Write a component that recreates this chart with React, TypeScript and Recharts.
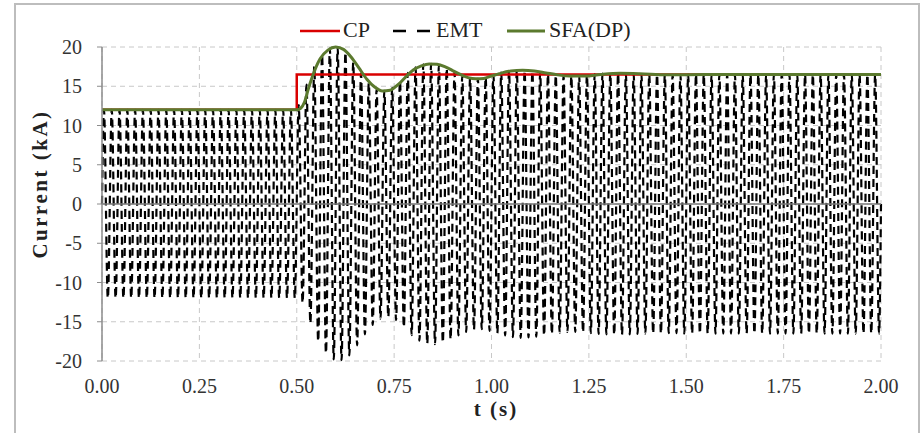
import { LineChart, Line, XAxis, YAxis, CartesianGrid, ReferenceLine } from "recharts";

const SERIF = "'Liberation Serif', 'DejaVu Serif', serif";

const X_TICKS = [0, 0.25, 0.5, 0.75, 1, 1.25, 1.5, 1.75, 2];
const Y_TICKS = [-20, -15, -10, -5, 0, 5, 10, 15, 20];

// CP: step from 12 kA to 16.5 kA at 0.5 s
const CP_T = [0, 0.5, 0.5, 2];
const CP_V = [12, 12, 16.5, 16.5];

// SFA(DP) envelope
const SFA_T = [
  0, 0.5, 0.51, 0.52, 0.53, 0.54, 0.55, 0.56, 0.58, 0.6, 0.62, 0.64, 0.66,
  0.68, 0.7, 0.72, 0.74, 0.76, 0.78, 0.8, 0.82, 0.84, 0.86, 0.88, 0.9, 0.92,
  0.94, 0.96, 0.98, 1.0, 1.02, 1.05, 1.08, 1.11, 1.14, 1.17, 1.2, 1.24, 1.28,
  1.33, 1.38, 1.45, 1.55, 2.0,
];
const SFA_V = [
  12, 12, 12.2, 13.0, 14.7, 16.2, 17.5, 18.5, 19.6, 20.0, 19.7, 18.7, 17.3,
  15.9, 14.9, 14.4, 14.5, 15.2, 16.2, 17.1, 17.6, 17.85, 17.8, 17.5, 17.0, 16.5,
  16.1, 15.95, 16.0, 16.3, 16.6, 16.95, 17.05, 16.95, 16.7, 16.45, 16.3, 16.3, 16.5,
  16.65, 16.6, 16.45, 16.5, 16.5,
];

// EMT: peak of each 50 Hz cycle (0.02 s each, 100 cycles over 2 s)
const EMT_CYCLE = 0.02;
const EMT_PEAKS = [
  12, 12, 12, 12, 12, 12, 12, 12, 12, 12,
  12, 12, 12, 12, 12, 12, 12, 12, 12, 12,
  12, 12, 12, 12, 12, 12.6, 15.2, 17.5, 19.0, 19.8,
  19.9, 19.3, 18.0, 16.6, 15.4, 14.6, 14.4, 14.8, 15.7, 16.7,
  17.4, 17.8, 17.85, 17.65, 17.25, 16.75, 16.3, 16.0, 15.95, 16.15,
  16.45, 16.75, 16.95, 17.05, 17.0, 16.9, 16.75, 16.55, 16.4, 16.3,
  16.3, 16.35, 16.45, 16.55, 16.6, 16.65, 16.65, 16.6, 16.55, 16.5,
  16.5, 16.5, 16.45, 16.45, 16.5, 16.5, 16.5, 16.5, 16.5, 16.5,
  16.5, 16.5, 16.5, 16.5, 16.5, 16.5, 16.5, 16.5, 16.5, 16.5,
  16.5, 16.5, 16.5, 16.5, 16.5, 16.5, 16.5, 16.5, 16.5, 16.5,
];

const cpData = CP_T.map((t, i) => ({ t, v: CP_V[i] }));
const sfaData = SFA_T.map((t, i) => ({ t, v: SFA_V[i] }));

const emtData: { t: number; v: number }[] = [{ t: 0, v: 0 }];
EMT_PEAKS.forEach((a, i) => {
  const t0 = i * EMT_CYCLE;
  emtData.push({ t: t0 + EMT_CYCLE / 4, v: a });
  emtData.push({ t: t0 + (3 * EMT_CYCLE) / 4, v: -a });
});
emtData.push({ t: 2, v: 0 });

const RED = "#d90000";
const GREEN = "#5b7a2e";

export default function App() {
  return (
    <div style={{ position: "absolute", left: 0, top: 0, width: 920, height: 433, background: "#fff", overflow: "hidden" }}>
      <div
        style={{
          position: "absolute",
          left: 14,
          top: 3,
          width: 902,
          height: 450,
          borderLeft: "2px solid #bdbdbd",
          borderTop: "2px solid #bdbdbd",
          borderRight: "2px solid #bdbdbd",
        }}
      />
      <LineChart
        width={920}
        height={433}
        margin={{ top: 47, right: 39, bottom: 0, left: 0 }}
        style={{ position: "absolute", left: 0, top: 0 }}
      >
        <CartesianGrid stroke="#c8c8c8" strokeDasharray="5 4" strokeWidth={1} />
        <XAxis
          type="number"
          dataKey="t"
          domain={[0, 2]}
          ticks={X_TICKS}
          tickFormatter={(v: number) => v.toFixed(2)}
          axisLine={false}
          tickLine={false}
          tickSize={6}
          tickMargin={12}
          height={72}
          interval={0}
          tick={{ fontSize: 20, fill: "#333", fontFamily: SERIF }}
        />
        <YAxis
          type="number"
          domain={[-20, 20]}
          ticks={Y_TICKS}
          width={102}
          interval={0}
          axisLine={{ stroke: "#8c8c8c", strokeWidth: 1.5 }}
          tickLine={{ stroke: "#8c8c8c" }}
          tickSize={5}
          tickMargin={15}
          tick={{ fontSize: 20, fill: "#333", fontFamily: SERIF }}
        />
        <Line
          data={emtData}
          dataKey="v"
          type="monotone"
          stroke="#000"
          strokeWidth={2.2}
          strokeDasharray="8 5"
          dot={false}
          isAnimationActive={false}
        />
        <ReferenceLine y={0} stroke="#7a7a7a" strokeWidth={1.5} />
        <Line
          data={cpData}
          dataKey="v"
          type="linear"
          stroke={RED}
          strokeWidth={2.5}
          dot={false}
          isAnimationActive={false}
        />
        <Line
          data={sfaData}
          dataKey="v"
          type="monotone"
          stroke={GREEN}
          strokeWidth={3}
          dot={false}
          isAnimationActive={false}
        />
      </LineChart>
      <svg width={920} height={433} style={{ position: "absolute", left: 0, top: 0, pointerEvents: "none" }}>
        <line x1={300} x2={340} y1={31} y2={31} stroke={RED} strokeWidth={2.5} />
        <text x={343} y={37} fontSize={22} fontFamily={SERIF} fill="#222">CP</text>
        <line x1={393} x2={432} y1={31} y2={31} stroke="#000" strokeWidth={2.5} strokeDasharray="13 11" />
        <text x={436} y={37} fontSize={22} fontFamily={SERIF} fill="#222">EMT</text>
        <line x1={507} x2={545} y1={31} y2={31} stroke={GREEN} strokeWidth={3} />
        <text x={549} y={37} fontSize={22} fontFamily={SERIF} fill="#222">SFA(DP)</text>
        <text
          x={47}
          y={184}
          transform="rotate(-90, 47, 184)"
          textAnchor="middle"
          fontSize={21}
          fontWeight="bold"
          letterSpacing={2.5}
          fontFamily={SERIF}
          fill="#222"
        >
          Current (kA)
        </text>
        <text x={496} y={416} textAnchor="middle" fontSize={21} fontWeight="bold" letterSpacing={2} fontFamily={SERIF} fill="#222">
          t (s)
        </text>
      </svg>
    </div>
  );
}
